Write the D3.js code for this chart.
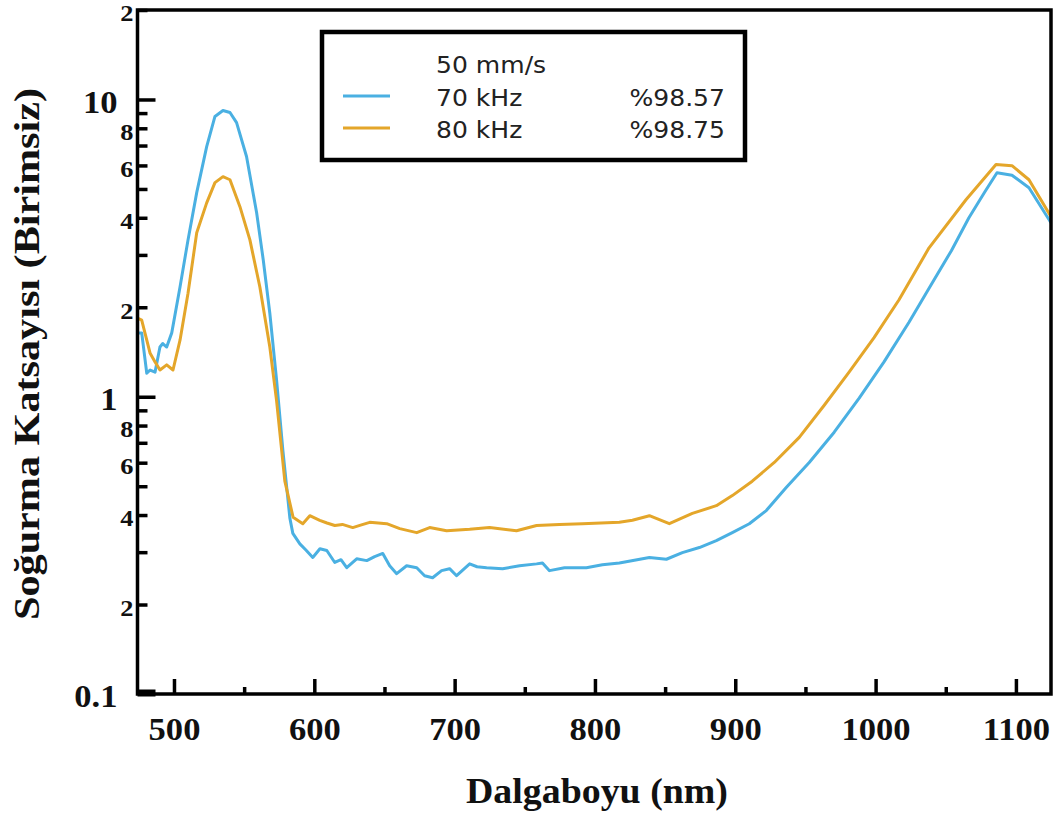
<!DOCTYPE html>
<html>
<head>
<meta charset="utf-8">
<script src="https://cdn.jsdelivr.net/npm/d3@7"></script>
<style>
  body { margin: 0; background: #fff; }
  svg { display: block; }
</style>
</head>
<body>
<svg id="chart" width="1057" height="818"></svg>
<script>
// Absorption spectra, 50 mm/s scan speed, two pulse frequencies
const wl70 = [474, 477, 480.6, 483, 486.5, 490, 492, 494.8, 498.4, 504.3, 510, 516.2, 523.3, 529.2, 534.9, 539.9, 544.6, 551.7, 558.9, 563.6, 568.3, 573.1, 577.6, 582.6, 584.7, 589.7, 594, 598.9, 604, 608.9, 614.6, 619, 623.1, 630.2, 637.4, 643, 648.8, 653.7, 658.7, 665.8, 673, 678.6, 684.3, 690.7, 696.4, 701.4, 710.7, 716, 722.8, 734.2, 746.3, 758.4, 762.6, 767.6, 778.3, 793.9, 805.3, 817.4, 838.8, 850.9, 862.3, 874.4, 886.5, 897.9, 910, 922.1, 936.3, 952.7, 970.5, 988.3, 1006, 1023.8, 1040, 1054, 1066.5, 1078, 1086.5, 1097.2, 1109.3, 1125];
const abs70 = [1.64, 1.64, 1.20, 1.23, 1.21, 1.47, 1.51, 1.47, 1.64, 2.34, 3.37, 4.86, 6.94, 8.77, 9.18, 9.04, 8.36, 6.43, 4.16, 2.89, 1.91, 1.14, 0.66, 0.39, 0.347, 0.32, 0.305, 0.288, 0.308, 0.304, 0.277, 0.283, 0.266, 0.285, 0.281, 0.29, 0.297, 0.270, 0.254, 0.270, 0.266, 0.25, 0.246, 0.26, 0.264, 0.25, 0.274, 0.268, 0.266, 0.264, 0.270, 0.274, 0.276, 0.26, 0.266, 0.266, 0.272, 0.276, 0.288, 0.284, 0.299, 0.311, 0.328, 0.349, 0.374, 0.414, 0.495, 0.601, 0.76, 0.99, 1.31, 1.78, 2.4, 3.1, 4.0, 4.9, 5.67, 5.56, 5.05, 3.85];

const wl80 = [474, 477, 483, 486.5, 490, 494.8, 499.3, 504.3, 510, 516.2, 523.3, 529.2, 534.9, 539.9, 547, 554.1, 561.2, 568.3, 573.1, 579, 584.9, 591.8, 596.8, 603.9, 609, 614.6, 620, 627.4, 633, 639.5, 651.6, 660.9, 673, 682.2, 694.3, 710.7, 724.9, 744.1, 758.4, 774.7, 791.1, 817.4, 826.7, 838.8, 853, 869.4, 886.5, 897.9, 912.1, 927.8, 945.6, 963.4, 981.1, 998.9, 1016.7, 1038.1, 1064.4, 1085.8, 1097.2, 1109.3, 1125];
const abs80 = [1.84, 1.81, 1.40, 1.31, 1.23, 1.28, 1.23, 1.55, 2.23, 3.56, 4.49, 5.25, 5.5, 5.37, 4.36, 3.37, 2.34, 1.47, 0.97, 0.52, 0.393, 0.374, 0.398, 0.384, 0.376, 0.369, 0.372, 0.363, 0.37, 0.378, 0.374, 0.36, 0.349, 0.363, 0.354, 0.358, 0.363, 0.354, 0.369, 0.372, 0.374, 0.378, 0.384, 0.398, 0.374, 0.405, 0.43, 0.465, 0.52, 0.601, 0.73, 0.936, 1.21, 1.58, 2.12, 3.17, 4.6, 6.04, 5.99, 5.37, 4.03];

const legendTitle = "50 mm/s";
const seriesLabels = ["70 kHz", "80 kHz"];
const seriesRates = ["%98.57", "%98.75"];
const seriesColors = ["#4ab0e2", "#e4a62a"];

const yMajor = [0.1, 1, 10];
const yMinor = [0.2, 0.3, 0.4, 0.5, 0.6, 0.7, 0.8, 0.9, 2, 3, 4, 5, 6, 7, 8, 9, 20];
const yTickText = new Map([[0.1, "0.1"], [0.2, "2"], [0.4, "4"], [0.6, "6"], [0.8, "8"],
                           [1, "1"], [2, "2"], [4, "4"], [6, "6"], [8, "8"], [10, "10"], [20, "2"]]);
const xMajor = [500, 600, 700, 800, 900, 1000, 1100];
const xMinor = [550, 650, 750, 850, 950, 1050];

const xTitle = "Dalgaboyu (nm)";
const yTitle = "Soğurma Katsayısı (Birimsiz)";

// ---- layout ----
const L = 137.5, R = 1051, T = 10, B = 694;
const serif = "'Liberation Serif', 'Times New Roman', serif";
const sans = "'DejaVu Sans', Verdana, sans-serif";

const svg = d3.select("#chart");
const x = d3.scaleLinear().domain([474, 1125]).range([L, R]);
const y = d3.scaleLog().domain([0.1, 20]).range([B, T]);

svg.append("defs").append("clipPath").attr("id", "plotClip")
  .append("rect").attr("x", L).attr("y", T).attr("width", R - L).attr("height", B - T);

// ---- curves ----
const line = d3.line().x(d => x(d[0])).y(d => y(d[1])).curve(d3.curveLinear);
const series = [d3.zip(wl70, abs70), d3.zip(wl80, abs80)];
svg.append("g").attr("clip-path", "url(#plotClip)")
  .selectAll("path").data(series).join("path")
  .attr("d", line)
  .attr("fill", "none")
  .attr("stroke", (d, i) => seriesColors[i])
  .attr("stroke-width", 3)
  .attr("stroke-linejoin", "round");

// widen tick label glyphs horizontally around their anchor
function widen(sel, k) {
  sel.each(function () {
    const t = d3.select(this);
    const tx = +t.attr("x") || 0, ty = +t.attr("y") || 0;
    t.attr("x", 0).attr("y", 0).attr("transform", `translate(${tx},${ty}) scale(${k},1)`);
  });
}

function styleAxis(g, fontSize) {
  g.select(".domain").remove();
  g.selectAll(".tick line").attr("stroke", "#000").attr("stroke-width", 3.5);
  g.selectAll(".tick text")
    .attr("fill", "#111")
    .style("font-family", serif)
    .style("font-weight", "bold")
    .style("font-size", fontSize + "px");
}

// ---- y axis ----
const gyMajor = svg.append("g").attr("transform", `translate(${L},0)`)
  .call(d3.axisLeft(y).tickValues(yMajor).tickSize(-18).tickSizeOuter(0)
        .tickPadding(20).tickFormat(v => yTickText.get(v) || ""));
styleAxis(gyMajor, 32);
gyMajor.selectAll(".tick text").attr("dy", "0.4em");
gyMajor.selectAll(".tick line").filter(d => d === 0.1).attr("stroke-width", 7).attr("transform", "translate(0,-1.5)");
widen(gyMajor.selectAll(".tick text"), 1.08);

const gyMinor = svg.append("g").attr("transform", `translate(${L},0)`)
  .call(d3.axisLeft(y).tickValues(yMinor).tickSize(-10).tickSizeOuter(0)
        .tickPadding(4).tickFormat(v => yTickText.get(v) || ""));
styleAxis(gyMinor, 24);
gyMinor.selectAll(".tick text").attr("dy", "0.45em");
widen(gyMinor.selectAll(".tick text"), 1.1);

// ---- x axis ----
const gxMajor = svg.append("g").attr("transform", `translate(0,${B})`)
  .call(d3.axisBottom(x).tickValues(xMajor).tickSize(-15).tickSizeOuter(0).tickFormat(d3.format("d")));
styleAxis(gxMajor, 32);
gxMajor.selectAll(".tick text").attr("y", 46).attr("dy", 0);
widen(gxMajor.selectAll(".tick text"), 1.08);

const gxMinor = svg.append("g").attr("transform", `translate(0,${B})`)
  .call(d3.axisBottom(x).tickValues(xMinor).tickSize(-7).tickSizeOuter(0).tickFormat(() => ""));
styleAxis(gxMinor, 32);

// ---- frame ----
svg.append("rect")
  .attr("x", L).attr("y", T).attr("width", R - L).attr("height", B - T)
  .attr("fill", "none").attr("stroke", "#000").attr("stroke-width", 3.5);

// ---- axis titles ----
svg.append("text")
  .attr("x", 597).attr("y", 803)
  .attr("text-anchor", "middle")
  .attr("textLength", 262).attr("lengthAdjust", "spacingAndGlyphs")
  .style("font-family", serif).style("font-weight", "bold").style("font-size", "35px")
  .attr("fill", "#111")
  .text(xTitle);

svg.append("text")
  .attr("transform", "translate(39,354) rotate(-90)")
  .attr("text-anchor", "middle")
  .attr("textLength", 532).attr("lengthAdjust", "spacingAndGlyphs")
  .style("font-family", serif).style("font-weight", "bold").style("font-size", "35px")
  .attr("fill", "#111")
  .text(yTitle);

// ---- legend ----
const lg = svg.append("g");
lg.append("rect")
  .attr("x", 322).attr("y", 32).attr("width", 423).attr("height", 128)
  .attr("fill", "#fff").attr("stroke", "#000").attr("stroke-width", 4.5);

function legendText(str, tx, ty, anchor) {
  lg.append("text")
    .attr("transform", `translate(${tx},${ty}) scale(1.09,1)`)
    .attr("text-anchor", anchor)
    .style("font-family", sans).style("font-size", "23px")
    .attr("fill", "#222")
    .text(str);
}
legendText(legendTitle, 436, 73, "start");
const rowY = [106, 138];
seriesLabels.forEach((s, i) => {
  lg.append("line")
    .attr("x1", 343).attr("x2", 390)
    .attr("y1", rowY[i] - 10).attr("y2", rowY[i] - 10)
    .attr("stroke", seriesColors[i]).attr("stroke-width", 3);
  legendText(s, 436, rowY[i], "start");
  legendText(seriesRates[i], 725, rowY[i], "end");
});
</script>
</body>
</html>
